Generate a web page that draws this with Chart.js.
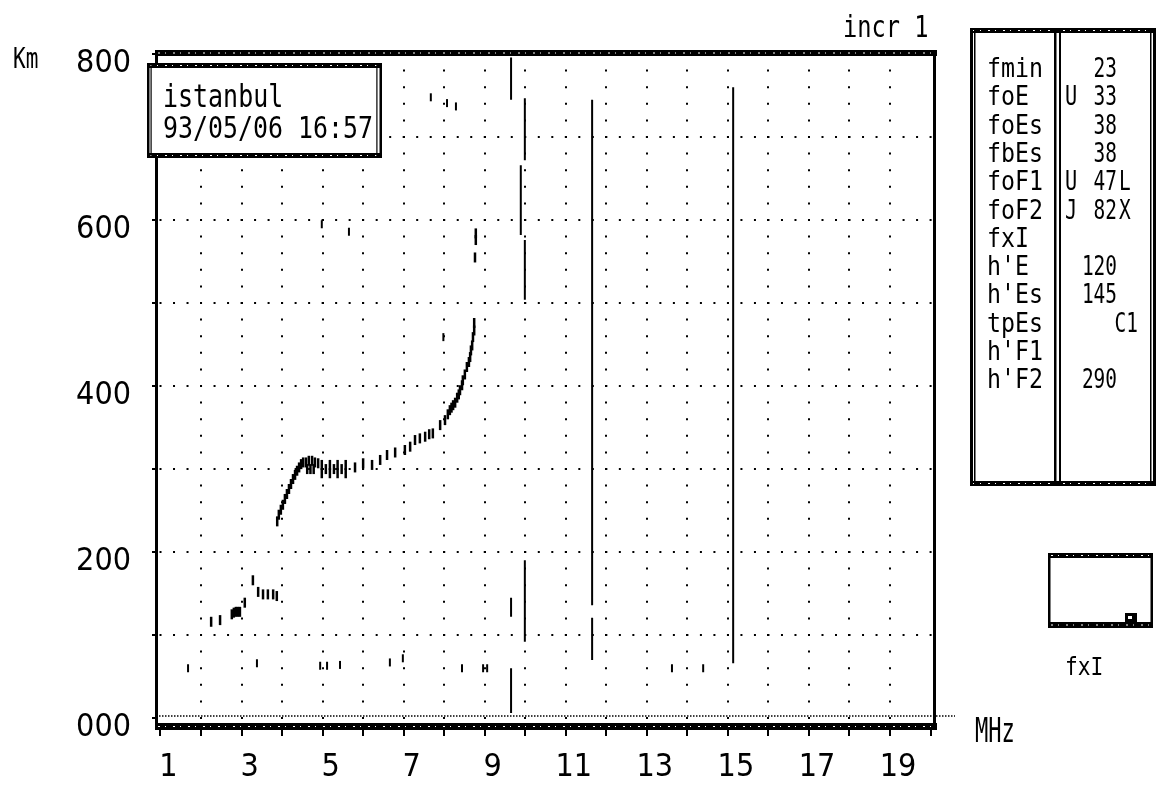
<!DOCTYPE html>
<html>
<head>
<meta charset="utf-8">
<title>istanbul ionogram 93/05/06 16:57</title>
<script src="https://cdn.jsdelivr.net/npm/chart.js@4.4.1/dist/chart.umd.min.js"></script>
<style>
  html, body { margin: 0; padding: 0; background: #fff; }
  canvas { display: block; }
</style>
</head>
<body>
<canvas id="ionogram" width="1159" height="790"></canvas>
<script>
// ionogram, virtual height (km) against frequency (MHz)

// labelled ticks
const freqTicks = [1, 3, 5, 7, 9, 11, 13, 15, 17, 19];
const heightTicks = [0, 200, 400, 600, 800];

// F layer trace
const fFreq = [3.88, 3.92, 3.97, 4.02, 4.07, 4.12, 4.17, 4.22, 4.27, 4.32, 4.37, 4.42, 4.47, 4.52,
  4.59, 4.66, 4.74, 4.81, 4.89, 4.62, 4.70, 4.78,
  4.98, 4.98, 5.08, 5.18, 5.18, 5.28, 5.37, 5.37, 5.47, 5.57, 5.57,
  5.80, 6.00, 6.22, 6.42, 6.59, 6.79, 7.03, 7.16, 7.28, 7.40, 7.53, 7.63, 7.72, 7.90,
  8.02, 8.09, 8.14, 8.18, 8.22, 8.27, 8.32, 8.36, 8.39, 8.44, 8.46, 8.51, 8.56, 8.61,
  8.64, 8.66, 8.69, 8.71, 8.74, 8.74, 8.76, 8.78, 8.78];
const fHeight = [237, 245, 251, 257, 264, 270, 276, 282, 288, 293, 298, 302, 306, 308,
  308, 310, 310, 308, 307, 300, 300, 300,
  295, 305, 300, 295, 305, 300, 295, 305, 300, 295, 305,
  302, 307, 305, 311, 317, 320, 323, 327, 335, 337, 339, 342, 343, 353,
  359, 366, 371, 374, 377, 380, 386, 390, 395, 401, 407, 414, 423, 429,
  435, 443, 449, 459, 467, 476, 555, 576, 584];

// E / Es trace
const eFreq = [2.25, 2.47, 2.76, 2.81, 2.86, 2.91, 2.96, 3.08, 3.28, 3.41, 3.53, 3.65, 3.78, 3.87];
const eHeight = [116, 118, 125, 127, 128, 128, 128, 139, 166, 152, 149, 149, 149, 147];

// scattered echoes
const noiseFreq = [1.68, 3.38, 4.94, 5.11, 5.43, 6.66, 6.98, 8.44, 8.96, 9.06, 13.62, 14.39,
  7.98, 4.98, 5.65, 7.67, 8.07, 8.29];
const noiseHeight = [60, 66, 63, 63, 64, 67, 72, 60, 60, 60, 60, 60,
  459, 595, 586, 748, 741, 737];

// vertical interference lines
const lineFreq = [9.65, 9.65, 9.65, 9.99, 9.89, 9.99, 9.99, 11.65, 11.65, 15.13];
const lineTop = [796, 145, 60, 747, 666, 576, 190, 745, 121, 760];
const lineBottom = [745, 122, 6, 672, 582, 504, 92, 136, 70, 66];

// scaled parameters
const paramNames = ['fmin', 'foE', 'foEs', 'fbEs', 'foF1', 'foF2', 'fxI', "h'E", "h'Es", 'tpEs', "h'F1", "h'F2"];
const paramQual = ['', 'U', '', '', 'U', 'J', '', '', '', '', '', ''];
const paramValues = ['23', '33', '38', '38', '47', '82', '', '120', '145', '', '', '290'];
const paramFlags = ['', '', '', '', 'L', 'X', '', '', '', 'C1', '', ''];

const station = 'istanbul';
const stamp = '93/05/06 16:57';

function xy(fs, hs) {
  return fs.map((f, i) => ({ x: f, y: hs[i] }));
}

const segData = [];
lineFreq.forEach((f, i) => {
  segData.push({ x: f, y: lineTop[i] }, { x: f, y: lineBottom[i] }, { x: f, y: null });
});

function txt(ctx, s, x, y, size, sx, align) {
  ctx.save();
  ctx.font = size + 'px "DejaVu Sans Mono"';
  ctx.textAlign = align || 'left';
  ctx.textBaseline = 'alphabetic';
  ctx.fillStyle = '#000';
  ctx.translate(x, y);
  ctx.scale(sx, 1);
  ctx.fillText(s, 0, 0);
  ctx.restore();
}

// thick band with a speckled white line through it
function band(ctx, x, y, w, h) {
  ctx.fillStyle = '#000';
  ctx.fillRect(x, y, w, h);
  ctx.save();
  ctx.strokeStyle = '#fff';
  ctx.lineWidth = 1;
  ctx.setLineDash([2, 5, 1, 7]);
  ctx.beginPath();
  ctx.moveTo(x + 3, y + h / 2);
  ctx.lineTo(x + w - 3, y + h / 2);
  ctx.stroke();
  ctx.restore();
}

const decor = {
  id: 'decor',
  afterDraw(chart) {
    const { ctx, chartArea: a, scales: { y } } = chart;
    ctx.save();

    // plot frame
    band(ctx, a.left - 2, a.top, a.right - a.left + 4, 6);
    band(ctx, a.left - 2, a.bottom - 5, a.right - a.left + 4, 7);
    ctx.fillStyle = '#000';
    ctx.fillRect(a.left - 2, a.top, 3, a.bottom - a.top + 2);
    ctx.fillRect(a.right - 2, a.top, 3, a.bottom - a.top + 2);

    // dense ground line, runs past the frame
    const y0 = y.getPixelForValue(0) - 2;
    ctx.strokeStyle = '#000';
    ctx.lineWidth = 1.5;
    ctx.setLineDash([1.5, 1.5]);
    ctx.beginPath();
    ctx.moveTo(a.left + 2, y0);
    ctx.lineTo(a.right + 20, y0);
    ctx.stroke();
    ctx.setLineDash([]);

    // station box
    ctx.fillStyle = '#fff';
    ctx.fillRect(147, 63, 235, 95);
    band(ctx, 147, 63, 235, 5);
    band(ctx, 147, 153, 235, 5);
    ctx.fillStyle = '#000';
    ctx.fillRect(147, 63, 2.5, 95);
    ctx.fillRect(150.5, 63, 1.2, 95);
    ctx.fillRect(379.5, 63, 2.5, 95);
    ctx.fillRect(376.3, 63, 1.2, 95);
    txt(ctx, station, 163, 107, 32, 0.78);
    txt(ctx, stamp, 163, 138, 30, 0.83);

    // axis names
    txt(ctx, 'Km', 13, 68, 28, 0.75);
    txt(ctx, 'MHz', 975, 742, 33, 0.67);
    txt(ctx, 'incr 1', 843, 37, 30, 0.79);

    // parameter panel
    band(ctx, 970, 28, 186, 5);
    band(ctx, 970, 481, 186, 5);
    ctx.fillStyle = '#000';
    ctx.fillRect(970, 28, 3, 458);
    ctx.fillRect(974, 28, 1.5, 458);
    ctx.fillRect(1153, 28, 3, 458);
    ctx.fillRect(1150, 28, 1.5, 458);
    ctx.fillRect(1054, 28, 2.5, 458);
    ctx.fillRect(1059, 28, 2, 458);
    paramNames.forEach((n, i) => {
      const by = 77 + 28.3 * i;
      txt(ctx, n, 987, by, 27, 0.86);
      if (paramQual[i]) txt(ctx, paramQual[i], 1065, by, 27, 0.75);
      if (paramValues[i]) txt(ctx, paramValues[i], 1117, by, 27, 0.72, 'right');
      const fl = paramFlags[i];
      if (fl.length === 1) txt(ctx, fl, 1119, by, 27, 0.72);
      else if (fl) txt(ctx, fl, 1138, by, 27, 0.72, 'right');
    });

    // fxI box
    band(ctx, 1048, 553, 105, 5);
    band(ctx, 1048, 622, 105, 6);
    ctx.fillStyle = '#000';
    ctx.fillRect(1048, 553, 2.5, 75);
    ctx.fillRect(1150.5, 553, 2.5, 75);
    ctx.fillRect(1125, 613, 12, 9);
    ctx.fillStyle = '#fff';
    ctx.fillRect(1128, 616, 4, 3);
    txt(ctx, 'fxI', 1065, 675, 25, 0.85);

    ctx.restore();
  }
};

const tickFont = { family: "'DejaVu Sans Condensed', 'DejaVu Sans', sans-serif", size: 32 };

new Chart(document.getElementById('ionogram'), {
  type: 'scatter',
  data: {
    datasets: [
      {
        label: 'F trace',
        data: xy(fFreq, fHeight),
        pointStyle: 'line',
        pointRotation: 90,
        pointRadius: 5,
        pointBorderWidth: 2.5,
        pointBorderColor: '#000',
        pointBackgroundColor: '#000'
      },
      {
        label: 'E trace',
        data: xy(eFreq, eHeight),
        pointStyle: 'line',
        pointRotation: 90,
        pointRadius: 5,
        pointBorderWidth: 2.5,
        pointBorderColor: '#000',
        pointBackgroundColor: '#000'
      },
      {
        label: 'echoes',
        data: xy(noiseFreq, noiseHeight),
        pointStyle: 'line',
        pointRotation: 90,
        pointRadius: 4,
        pointBorderWidth: 2,
        pointBorderColor: '#000',
        pointBackgroundColor: '#000'
      },
      {
        type: 'line',
        label: 'interference',
        data: segData,
        borderColor: '#000',
        borderWidth: 2,
        pointRadius: 0,
        spanGaps: false
      }
    ]
  },
  options: {
    responsive: false,
    animation: false,
    devicePixelRatio: 1,
    layout: { padding: { top: 50, right: 224, left: 0, bottom: 0 } },
    plugins: { legend: { display: false }, tooltip: { enabled: false } },
    scales: {
      x: {
        type: 'linear',
        min: 0.914,
        max: 20.11,
        afterFit: s => { s.height = 62; },
        border: { display: false, dash: [2, 14.6], dashOffset: 13.6 },
        grid: {
          color: c => (c.tick && (c.tick.value === 1 || c.tick.value === 20)) ? 'rgba(0,0,0,0)' : '#000',
          lineWidth: 2,
          tickColor: '#000',
          tickLength: 8,
          tickWidth: 2
        },
        ticks: {
          stepSize: 1,
          autoSkip: false,
          maxRotation: 0,
          includeBounds: false,
          padding: 12,
          labelOffset: 8,
          color: '#000',
          font: tickFont,
          callback: v => freqTicks.includes(v) ? String(v) : ''
        }
      },
      y: {
        type: 'linear',
        min: -12,
        max: 805,
        afterFit: s => { s.width = 157; },
        border: { display: false, dash: [2, 11.51], dashOffset: 11 },
        grid: {
          color: c => (c.tick && c.tick.value === 0) ? 'rgba(0,0,0,0)' : '#000',
          lineWidth: 2,
          tickColor: '#000',
          tickLength: 5,
          tickWidth: 2
        },
        ticks: {
          stepSize: 100,
          includeBounds: false,
          padding: 21,
          labelOffset: 10,
          color: '#000',
          font: tickFont,
          callback: v => heightTicks.includes(v) ? String(v).padStart(3, '0') : ''
        }
      }
    }
  },
  plugins: [decor]
});
</script>
</body>
</html>
